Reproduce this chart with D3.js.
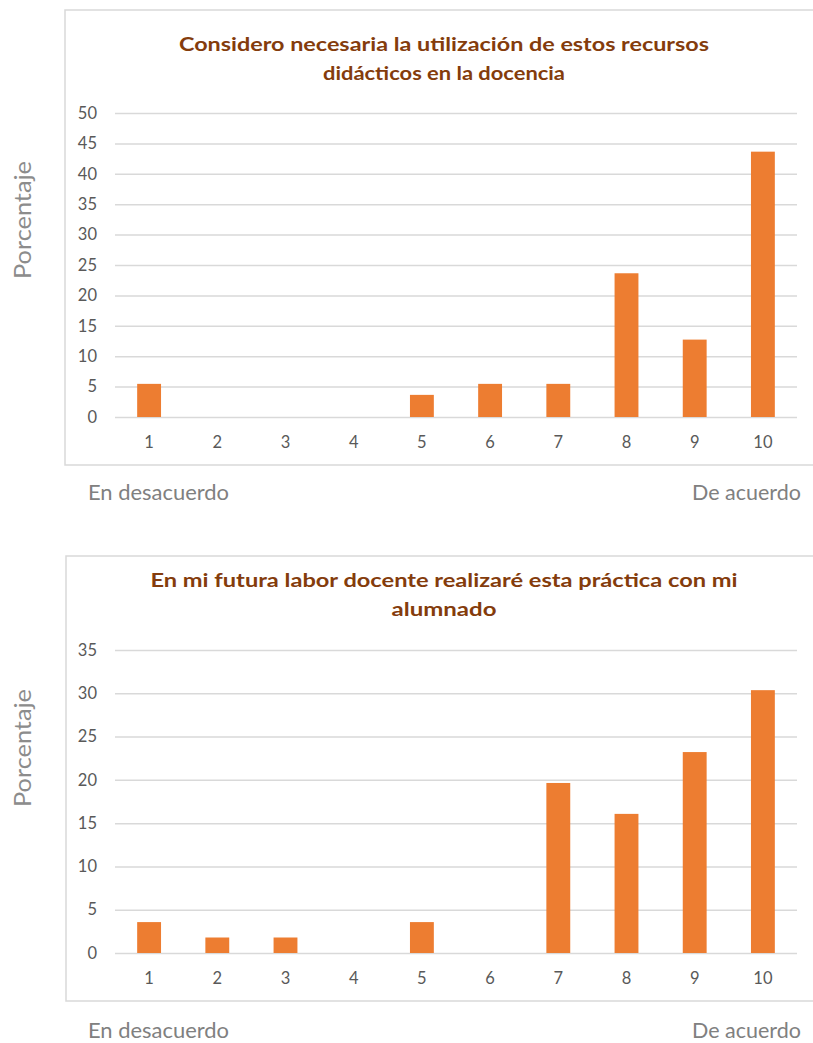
<!DOCTYPE html>
<html>
<head>
<meta charset="utf-8">
<script src="https://cdn.jsdelivr.net/npm/d3@7"></script>
<style>
  body { margin: 0; background: #fff; }
  svg { display: block; }
</style>
</head>
<body>
<svg id="chart"></svg>
<script>
// data (percent of answers per score)
var categories = ["1","2","3","4","5","6","7","8","9","10"];
var necesariaValues = [5.45, 0, 0, 0, 3.64, 5.45, 5.45, 23.64, 12.73, 43.64];
var futuraValues = [3.57, 1.79, 1.79, 0, 3.57, 0, 19.64, 16.07, 23.21, 30.36];
var necesariaTicks = [0,5,10,15,20,25,30,35,40,45,50];
var futuraTicks = [0,5,10,15,20,25,30,35];
var necesariaTitle = ["Considero necesaria la utilización de estos recursos", "didácticos  en la docencia"];
var futuraTitle = ["En mi futura labor docente realizaré esta práctica con mi", "alumnado"];

var svgWidth = 813, svgHeight = 1043;
var svg = d3.select('#chart')
  .attr('width', svgWidth)
  .attr('height', svgHeight);

var barColor = '#ED7D31', gridColor = '#d9d9d9', frameColor = '#d9d9d9';

function drawChart(o) {
  var g = svg.append('g');

  // outer chart frame (runs off the right edge, like the screenshot)
  g.append('rect')
    .attr('x', o.frameX).attr('y', o.frameY)
    .attr('width', 780).attr('height', o.frameH)
    .attr('fill', 'none')
    .attr('stroke', frameColor)
    .attr('stroke-width', 1.5);

  var xScale = d3.scaleBand()
    .domain(categories)
    .range([115, 797])
    .paddingInner(0.65)
    .paddingOuter(0.325);

  var yScale = d3.scaleLinear()
    .domain([0, d3.max(o.ticks)])
    .range([o.y0, o.yTop]);

  var yAxis = d3.axisLeft(yScale)
    .tickValues(o.ticks)
    .tickSize(-(797 - 115))
    .tickPadding(18);

  var ya = g.append('g')
    .attr('transform', 'translate(115,0)')
    .call(yAxis);
  ya.select('.domain').remove();
  ya.selectAll('line').attr('stroke', gridColor).attr('stroke-width', 1.5);
  ya.selectAll('text')
    .attr('fill', '#595959')
    .style('font-family', 'Lato, "Open Sans", sans-serif')
    .style('font-size', '16.5px');

  var xAxis = d3.axisBottom(xScale).tickSize(0).tickPadding(19);
  var xa = g.append('g')
    .attr('transform', 'translate(0,' + o.y0 + ')')
    .call(xAxis);
  xa.select('.domain').remove();
  xa.selectAll('text')
    .attr('fill', '#595959')
    .style('font-family', 'Lato, "Open Sans", sans-serif')
    .style('font-size', '16.5px');

  g.selectAll('rect.bar')
    .data(o.values)
    .enter()
    .append('rect')
    .attr('class', 'bar')
    .attr('x', (d, i) => xScale(categories[i]))
    .attr('y', d => yScale(d))
    .attr('width', xScale.bandwidth())
    .attr('height', d => o.y0 - yScale(d))
    .attr('fill', barColor);

  // title, two lines
  g.selectAll('text.title')
    .data(o.title)
    .enter()
    .append('text')
    .attr('class', 'title')
    .attr('x', 444)
    .attr('y', (d, i) => o.titleY + i * 29)
    .attr('text-anchor', 'middle')
    .attr('fill', '#843C0C')
    .style('font-family', 'Lato, "Open Sans", sans-serif')
    .style('font-weight', 'bold')
    .style('font-size', '19px')
    .attr('textLength', (d, i) => o.titleLen[i])
    .attr('lengthAdjust', 'spacingAndGlyphs')
    .text(d => d);

  g.append('text')
    .attr('transform', 'translate(31,' + o.yTitleY + ') rotate(-90)')
    .attr('text-anchor', 'middle')
    .attr('fill', '#8c8c8c')
    .style('font-family', 'Lato, "Open Sans", sans-serif')
    .style('font-size', '24px')
    .attr('textLength', 118)
    .attr('lengthAdjust', 'spacingAndGlyphs')
    .text('Porcentaje');

  g.append('text')
    .attr('x', 88).attr('y', o.footY)
    .attr('fill', '#808080')
    .style('font-family', 'Lato, "Open Sans", sans-serif')
    .style('font-size', '21px')
    .attr('textLength', 141)
    .attr('lengthAdjust', 'spacingAndGlyphs')
    .text('En desacuerdo');

  g.append('text')
    .attr('x', 801).attr('y', o.footY)
    .attr('text-anchor', 'end')
    .attr('fill', '#808080')
    .style('font-family', 'Lato, "Open Sans", sans-serif')
    .style('font-size', '21px')
    .attr('textLength', 109)
    .attr('lengthAdjust', 'spacingAndGlyphs')
    .text('De acuerdo');
}

drawChart({
  values: necesariaValues, ticks: necesariaTicks, title: necesariaTitle,
  titleLen: [530, 242],
  frameX: 65, frameY: 10, frameH: 455,
  y0: 417, yTop: 113, titleY: 51, yTitleY: 220, footY: 500
});

drawChart({
  values: futuraValues, ticks: futuraTicks, title: futuraTitle,
  titleLen: [587, 105],
  frameX: 66, frameY: 556, frameH: 445,
  y0: 953, yTop: 650, titleY: 587, yTitleY: 748, footY: 1038
});
</script>
</body>
</html>
